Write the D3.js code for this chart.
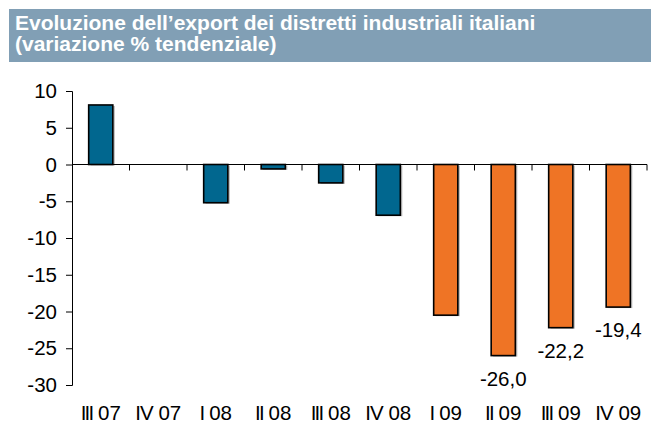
<!DOCTYPE html>
<html>
<head>
<meta charset="utf-8">
<script src="https://cdn.jsdelivr.net/npm/d3@7"></script>
<style>
  body { margin: 0; background: #fff; }
  svg { display: block; font-family: "Liberation Sans", Arial, sans-serif; }
</style>
</head>
<body>
<svg id="chart" width="651" height="425"></svg>
<script>
/// Chart data
var titleLines = ["Evoluzione dell\u2019export dei distretti industriali italiani", "(variazione % tendenziale)"]
var categories = ["III 07", "IV 07", "I 08", "II 08", "III 08", "IV 08", "I 09", "II 09", "III 09", "IV 09"]
var values = [8.1, null, -5.2, -0.6, -2.5, -6.9, -20.5, -26.0, -22.2, -19.4]
var labelled = ["II 09", "III 09", "IV 09"]   /// bars with a value label
var yTicks = [10, 5, 0, -5, -10, -15, -20, -25, -30]

var fs = "20.5px"
var svg = d3.select("#chart")

/// Title band
svg.append("rect")
    .attr("x", 9).attr("y", 9)
    .attr("width", 642).attr("height", 53)
    .attr("fill", "#819fb5")

svg.selectAll("text.title")
    .data(titleLines)
    .enter().append("text")
    .attr("class", "title")
    .attr("x", 15)
    .attr("y", (d, i) => 30 + i * 21)
    .attr("fill", "#fff")
    .attr("font-weight", "bold")
    .attr("font-size", "21px")
    .text(d => d)

/// Scales
var x = d3.scaleBand()
    .domain(categories)
    .range([72, 647])
    .paddingInner(0.58)
    .paddingOuter(0.29)

var xb = d3.scaleLinear().domain([0, categories.length]).range([72, 647])

var y = d3.scaleLinear()
    .domain([-30, 10])
    .range([385, 91])

/// Y axis
var yAxis = svg.append("g")
    .attr("transform", "translate(72,0)")
    .call(d3.axisLeft(y).tickValues(yTicks).tickSize(6).tickPadding(9)
          .tickFormat(d => d))
yAxis.select(".domain").attr("stroke", "#000").attr("stroke-width", 1)
yAxis.selectAll(".tick line").attr("stroke", "#000")
yAxis.selectAll("text").attr("font-size", fs).attr("fill", "#000")
    .attr("font-family", "Liberation Sans, Arial, sans-serif")

/// Bars
var colour = (d, i) => i >= 6 ? "#ef7425" : "#01678f"
var data = categories.map((c, i) => ({cat: c, v: values[i], i: i}))
    .filter(d => d.v !== null)

/// faint shadow
svg.selectAll("rect.shadow")
    .data(data)
    .enter().append("rect")
    .attr("class", "shadow")
    .attr("x", d => x(d.cat) + 2)
    .attr("y", d => Math.min(y(d.v), y(0)) + 1)
    .attr("width", x.bandwidth())
    .attr("height", d => Math.abs(y(d.v) - y(0)))
    .attr("fill", "#bbb")

svg.selectAll("rect.bar")
    .data(data)
    .enter().append("rect")
    .attr("class", "bar")
    .attr("x", d => x(d.cat))
    .attr("y", d => Math.min(y(d.v), y(0)))
    .attr("width", x.bandwidth())
    .attr("height", d => Math.abs(y(d.v) - y(0)))
    .attr("fill", d => colour(d, d.i))
    .attr("stroke", "#000")
    .attr("stroke-width", 1.6)

/// X axis at zero with ticks between categories
var xg = svg.append("g")
xg.append("line")
    .attr("x1", 72).attr("x2", 647)
    .attr("y1", y(0)).attr("y2", y(0))
    .attr("stroke", "#000")
xg.selectAll("line.tk")
    .data(d3.range(1, categories.length + 1))
    .enter().append("line")
    .attr("class", "tk")
    .attr("x1", d => xb(d)).attr("x2", d => xb(d))
    .attr("y1", y(0)).attr("y2", y(0) + 6)
    .attr("stroke", "#000")

/// Category labels: roman numeral drawn tight, then the year
var cats = svg.selectAll("text.cat")
    .data(categories)
    .enter().append("text")
    .attr("class", "cat")
    .attr("x", d => x(d) + x.bandwidth() / 2)
    .attr("y", 420)
    .attr("text-anchor", "middle")
    .attr("font-size", fs)
cats.append("tspan")
    .attr("letter-spacing", d => d.startsWith("IV") ? "-1px" : "-1.8px")
    .text(d => d.split(" ")[0])
cats.append("tspan")
    .text(d => " " + d.split(" ")[1])

/// Value labels
svg.selectAll("text.val")
    .data(data.filter(d => labelled.indexOf(d.cat) >= 0))
    .enter().append("text")
    .attr("class", "val")
    .attr("x", d => x(d.cat) + x.bandwidth() / 2)
    .attr("y", d => y(d.v) + 30)
    .attr("text-anchor", "middle")
    .attr("font-size", fs)
    .text(d => d3.format(".1f")(d.v).replace(".", ",").replace("\u2212", "-"))
</script>
</body>
</html>
